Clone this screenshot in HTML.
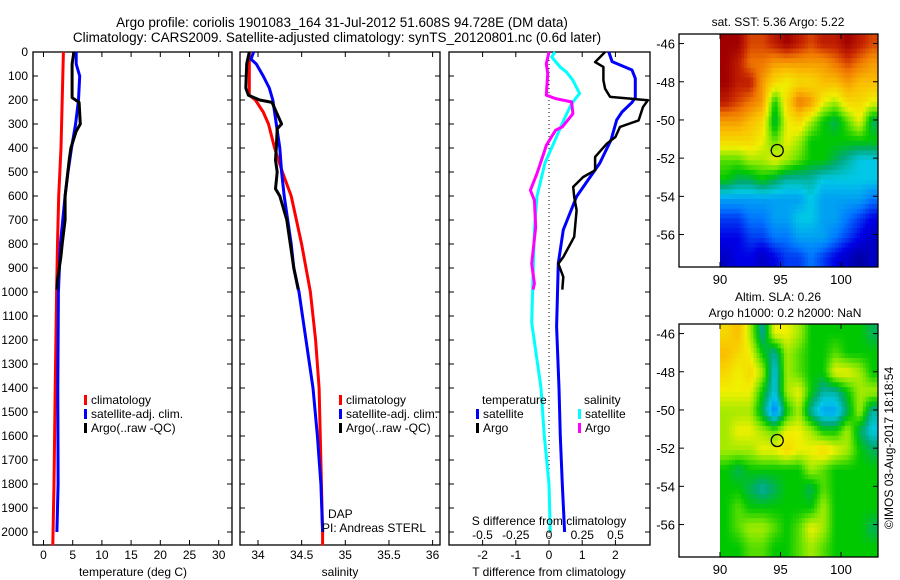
<!DOCTYPE html>
<html><head><meta charset="utf-8"><style>
body{margin:0;background:#fff;}
svg{display:block;font-family:"Liberation Sans",sans-serif;}
</style></head><body>
<svg id="fig" width="900" height="580" viewBox="0 0 900 580" xmlns="http://www.w3.org/2000/svg">
<rect width="900" height="580" fill="#fff"/>
<text x="342" y="27" font-size="13.5" text-anchor="middle">Argo profile: coriolis 1901083_164 31-Jul-2012 51.608S 94.728E (DM data)</text>
<text x="337" y="42" font-size="13.5" text-anchor="middle">Climatology: CARS2009. Satellite-adjusted climatology: synTS_20120801.nc (0.6d later)</text>
<g id="g"></g>
</svg>
<script>
// ---- profile data (depth in m) ----
const tRedD=[0,200,400,600,800,1000,1400,1800,2055];
const tRedV=[3.4,3.2,3.0,2.6,2.4,2.25,2.0,1.8,1.6];
const tBlueD=[0,50,100,200,300,400,500,600,800,1000,1400,1800,2000];
const tBlueV=[5.6,5.6,6.2,6.0,5.5,4.8,4.2,3.7,2.9,2.55,2.45,2.5,2.3];
const tArgoD=[0,50,190,210,300,330,400,450,600,700,800,850,950,990];
const tArgoV=[5.2,4.9,4.9,6.1,6.3,5.6,4.7,4.4,3.7,3.7,3.2,3.0,2.4,2.3];
const sRedD=[0,180,200,250,300,400,500,600,700,800,900,1000,1200,1400,2000,2055];
const sRedV=[33.9,33.9,33.97,34.06,34.12,34.19,34.28,34.38,34.44,34.5,34.55,34.6,34.66,34.7,34.74,34.74];
const sBlueD=[0,30,50,100,150,200,300,400,500,600,700,800,900,1000,1400,1600,1800,2000];
const sBlueV=[33.95,33.92,33.98,34.06,34.13,34.17,34.21,34.25,34.27,34.3,34.34,34.38,34.41,34.47,34.63,34.68,34.72,34.74];
const sArgoD=[0,50,150,180,200,210,300,320,400,450,500,570,600,700,800,900,990];
const sArgoV=[33.9,33.87,33.86,33.89,34.02,34.16,34.27,34.22,34.21,34.2,34.22,34.2,34.25,34.33,34.37,34.41,34.46];
const dTsatD=[0,40,75,110,190,210,250,283,366,463,602,741,880,1144,1400,1600,1800,2000];
const dTsatV=[1.8,1.9,2.5,2.6,2.6,2.5,2.2,2.04,1.87,1.53,0.83,0.43,0.28,0.23,0.3,0.34,0.4,0.47];
const dTargoD=[0,42,62,118,153,187,201,229,285,312,354,382,437,493,521,562,604,659,770,854,882,937,990];
const dTargoV=[1.69,1.39,1.64,1.64,1.69,1.84,2.98,2.83,2.7,2.14,2.0,1.74,1.39,1.39,1.03,0.73,0.76,0.83,0.76,0.43,0.28,0.43,0.4];
const dSsatD=[0,21,62,83,118,173,215,285,368,462,601,740,1128,1400,1600,1800,2000];
const dSsatV=[0.045,0.02,0.083,0.13,0.18,0.23,0.17,0.11,0.045,-0.03,-0.09,-0.11,-0.13,-0.06,-0.035,0,0.01];
const dSargoD=[0,49,90,180,194,208,257,312,326,389,423,506,576,618,729,882,965,990];
const dSargoV=[0,-0.02,-0.01,-0.02,0.05,0.17,0.18,0.1,0.05,-0.02,-0.04,-0.09,-0.14,-0.11,-0.1,-0.13,-0.11,-0.12];
const depthTicks=[0,100,200,300,400,500,600,700,800,900,1000,1100,1200,1300,1400,1500,1600,1700,1800,1900,2000];
const tTicks=[0,5,10,15,20,25,30];
const sTicks=[34,34.5,35,35.5,36];
const sTickLabels=["34","34.5","35","35.5","36"];
const dtTicks=[-2,-1,0,1,2];
const dsTicks=[-0.5,-0.25,0,0.25,0.5];
const dsTickLabels=["-0.5","-0.25","0","0.25","0.5"];
// ---- map data (colour index 0..10), rows lat -46..-57, cols lon 90..102 ----
const sstGrid=[
[10,10,9,9,9.5,10,9.5,9,9.5,9.5,10,9.5,9],
[10,9.5,8.5,8.5,8,8,8,8,8,8.5,9,8.5,8],
[10,9.5,9.5,8,7,6.5,7,7,7.5,7.5,8,7.5,7.5],
[9.5,9,8.5,8,5,7,8.5,8,6.5,6,7,7,6.5],
[8,8,7.5,7,4.5,6.5,7,6,5,4.5,5.5,6.5,4.5],
[7,7,7,6.5,5.5,6.5,6,5,5,5,5,5,5],
[5.5,5.5,6,6,6.5,6,5.5,5,5,4.5,4,3.5,3.5],
[5,4.5,4.5,5,4.5,4,4,4,3.5,3.5,3.5,3.5,3.5],
[3,3,3,3,3,3,3,3.5,3,3,3,3,2.5],
[2,2,2.5,2.5,3,3,3.5,3.5,3,3,2.5,2,1.5],
[1.5,1.5,2,2,2.5,2.5,3,3,3,2.5,2,1.5,1],
[1,1.5,1.5,1,1.5,2,2,2.5,2,1.5,1,0.5,1]];
const slaGrid=[
[7,7.5,6,4,6.5,6.5,6,5,5,5,5,5,4.5],
[7.5,7,6.5,5,4,6,5.5,5,5,5.5,5,5,5],
[7,6.5,7,6,3.5,6,5.5,5,5,6.5,6.5,6,5],
[6.5,6.5,6.5,5,3.5,6,6.5,5,4,4,5,6,6],
[6,6,6,4.5,2.5,5,6,4,3,3,4.5,6,4],
[6,6.5,6.5,6,5.5,6.5,6.5,6,5,5,6,4.5,3.5],
[6,6,6,6.5,6.5,7,6.5,6.5,7,6.5,6,5,4.5],
[5,4.5,5,5,5,5,5,6,5.5,5,5,5,5],
[5,5,4.5,4,4.5,5,5,4.5,5.5,5,5,5,5],
[5,5.5,5,5,5,5,5,5,6,5,5,5,5],
[5,5.5,6,6,5.5,5,5.5,6.5,6,5,5,5,4.5],
[5,5,5.5,5.5,5,5,5.5,6,5.5,5,5,5,5]];
const latTicks=[-46,-48,-50,-52,-54,-56];
const lonTicks=[90,95,100];
const argoLon=94.73, argoLat=-51.6;

const NS="http://www.w3.org/2000/svg";
const G=document.getElementById('g');
function mk(tag,attrs,parent){const e=document.createElementNS(NS,tag);for(const k in attrs)e.setAttribute(k,attrs[k]);(parent||G).appendChild(e);return e;}
function txt(x,y,s,size,anchor,parent){const e=mk('text',{x:x,y:y,'font-size':size,'text-anchor':anchor||'middle'},parent);e.textContent=s;return e;}
const yD=d=>52+d*0.24;
const PB=545;
function panel(name,x0,x1){
  const g=mk('g',{});
  
  
  mk('rect',{x:x0,y:52,width:x1-x0,height:PB-52,fill:'none',stroke:'#000','stroke-width':1.3},g);
  depthTicks.forEach(d=>{const y=yD(d);mk('line',{x1:x0,x2:x0+5,y1:y,y2:y,stroke:'#000'},g);mk('line',{x1:x1,x2:x1-5,y1:y,y2:y,stroke:'#000'},g);});
  return g;
}
function line(g,D,V,fx,color,w,name){
  const p=D.map((d,i)=>fx(V[i]).toFixed(1)+','+yD(d).toFixed(1)).join(' ');
  const e=mk('polyline',{points:p,fill:'none',stroke:color,'stroke-width':w,'stroke-linejoin':'round'},g);
  
  
}
function xticks(g,ticks,labels,fx,ly){
  ticks.forEach((t,i)=>{const x=fx(t);mk('line',{x1:x,x2:x,y1:52,y2:57,stroke:'#000'},g);mk('line',{x1:x,x2:x,y1:PB,y2:PB-5,stroke:'#000'},g);txt(x,ly,labels[i],12,'middle',g);});
}
function legend(g,x,y,color,label){
  mk('rect',{x:x,y:y-9,width:3,height:10,fill:color},g);
  txt(x+7,y,label,12,'start',g);
}
// Panel 1 temperature
const fT=t=>43.5+t*5.84;
const p1=panel('temperature-panel',33,232);
depthTicks.forEach(d=>{txt(28,yD(d)+4,String(d),12,'end',p1);});
xticks(p1,tTicks,tTicks.map(String),fT,559);
txt(133,576,'temperature (deg C)',12,'middle',p1);
line(p1,tRedD,tRedV,fT,'#f00',3,'temp-climatology-line');
line(p1,tBlueD,tBlueV,fT,'#00f',3,'temp-satellite-line');
line(p1,tArgoD,tArgoV,fT,'#000',3,'temp-argo-line');
legend(p1,84,404,'#f00','climatology');
legend(p1,84,418,'#00f','satellite-adj. clim.');
legend(p1,84,432,'#000','Argo(..raw -QC)');
// Panel 2 salinity
const fS=s=>258+(s-34)*87.3;
const p2=panel('salinity-panel',240,440);
xticks(p2,sTicks,sTickLabels,fS,559);
txt(340,576,'salinity',12,'middle',p2);
line(p2,sRedD,sRedV,fS,'#f00',3,'sal-climatology-line');
line(p2,sBlueD,sBlueV,fS,'#00f',3,'sal-satellite-line');
line(p2,sArgoD,sArgoV,fS,'#000',3,'sal-argo-line');
legend(p2,339,404,'#f00','climatology');
legend(p2,339,418,'#00f','satellite-adj. clim.');
legend(p2,339,432,'#000','Argo(..raw -QC)');
txt(328,518,'DAP',12,'start',p2);
txt(322,532,'PI: Andreas STERL',12,'start',p2);
// Panel 3 differences
const fDT=t=>549+t*33.2, fDS=s=>549+s*133;
const p3=panel('difference-panel',449,650);
mk('line',{x1:549,x2:549,y1:52,y2:PB,stroke:'#000','stroke-dasharray':'1,3'},p3);
xticks(p3,dtTicks,dtTicks.map(String),fDT,559);
txt(549,576,'T difference from climatology',12,'middle',p3);
line(p3,dSsatD,dSsatV,fDS,'#0ff',3,'sal-diff-satellite-line');
line(p3,dSargoD,dSargoV,fDS,'#f0f',3,'sal-diff-argo-line');
line(p3,dTsatD,dTsatV,fDT,'#00f',3,'temp-diff-satellite-line');
line(p3,dTargoD,dTargoV,fDT,'#000',2.5,'temp-diff-argo-line');
dsTicks.forEach((s,i)=>txt(fDS(s),539,dsTickLabels[i],12,'middle',p3));
txt(549,525,'S difference from climatology',12,'middle',p3);
txt(482,404,'temperature',12,'start',p3);
txt(584,404,'salinity',12,'start',p3);
legend(p3,476,418,'#00f','satellite');
legend(p3,476,432,'#000','Argo');
legend(p3,578,418,'#0ff','satellite');
legend(p3,578,432,'#f0f','Argo');
// Maps
const cmapStops=[[0,0,0,130],[1.5,0,0,230],[2.5,0,120,255],[3.5,0,200,230],[4.3,0,170,120],[5,0,200,0],[5.7,120,230,0],[6.5,240,240,0],[7.5,250,190,0],[8.5,240,120,0],[9.3,200,40,0],[10,160,0,0]];
function cmap(v){
  v=Math.max(0,Math.min(10,v));
  for(let i=1;i<cmapStops.length;i++){const a=cmapStops[i-1],b=cmapStops[i];if(v<=b[0]){const f=(v-a[0])/(b[0]-a[0]);return 'rgb('+[1,2,3].map(k=>Math.round(a[k]+(b[k]-a[k])*f)).join(',')+')';}}
  return 'rgb(160,0,0)';
}
function sample(grid,r,c){ // bilinear
  const R=grid.length,C=grid[0].length;
  r=Math.max(0,Math.min(R-1,r));c=Math.max(0,Math.min(C-1,c));
  const r0=Math.floor(r),c0=Math.floor(c),r1=Math.min(R-1,r0+1),c1=Math.min(C-1,c0+1),fr=r-r0,fc=c-c0;
  return grid[r0][c0]*(1-fr)*(1-fc)+grid[r0][c1]*(1-fr)*fc+grid[r1][c0]*fr*(1-fc)+grid[r1][c1]*fr*fc;
}
const fLon=l=>720+(l-90)*12.1;
function map(name,grid,top,t1,t1y,t2,t2y){
  const g=mk('g',{});
  
  
  const fLat=la=>top+(-45.5-la)*19.1;
  const bot=top+233;
  const S=4, R=grid.length, C=grid[0].length;
  const x0=fLon(90), x1=878, y0=top, y1=bot;
  const cw=(x1-x0)/(C*S), ch=(y1-y0)/(R*S);
  for(let i=0;i<R*S;i++)for(let j=0;j<C*S;j++){
    const v=sample(grid,(i+0.5)/S-0.5,(j+0.5)/S-0.5);
    const cell=mk('rect',{x:(x0+j*cw).toFixed(2),y:(y0+i*ch).toFixed(2),width:(cw+0.5).toFixed(2),height:(ch+0.5).toFixed(2),fill:cmap(v)},g);
    
    
  }
  mk('rect',{x:679,y:top,width:199,height:233,fill:'none',stroke:'#000','stroke-width':1.3},g);
  latTicks.forEach(la=>{const y=fLat(la);mk('line',{x1:679,x2:684,y1:y,y2:y,stroke:'#000'},g);mk('line',{x1:878,x2:873,y1:y,y2:y,stroke:'#000'},g);txt(675,y+5,String(la),13,'end',g);});
  lonTicks.forEach(lo=>{const x=fLon(lo);mk('line',{x1:x,x2:x,y1:top,y2:top+5,stroke:'#000'},g);mk('line',{x1:x,x2:x,y1:bot,y2:bot-5,stroke:'#000'},g);txt(x,bot+17,String(lo),13,'middle',g);});
  const c=mk('circle',{cx:fLon(argoLon),cy:fLat(argoLat),r:6,fill:'none',stroke:'#000','stroke-width':1.3},g);
  
  
  txt(778,t1y,t1,12,'middle',g);
  if(t2) txt(785,t2y,t2,12,'middle',g);
}
map('sst-map',sstGrid,34,'sat. SST: 5.36 Argo: 5.22',26);
map('sla-map',slaGrid,324,'Altim. SLA: 0.26',301,'Argo h1000: 0.2 h2000: NaN',317);
const cr=txt(0,0,'©IMOS 03-Aug-2017 18:18:54',12,'middle');
cr.setAttribute('transform','translate(893,448) rotate(-90)');


</script>
</body></html>
